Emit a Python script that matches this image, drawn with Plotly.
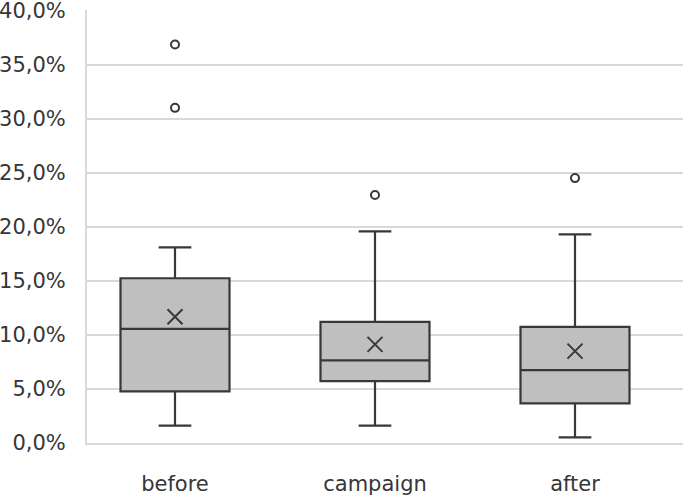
import plotly.graph_objects as go

categories = ["before", "campaign", "after"]
q1 = [0.0477, 0.0573, 0.0366]
median = [0.1056, 0.0764, 0.0674]
q3 = [0.1524, 0.1120, 0.1074]
lower_whisker = [0.016, 0.016, 0.0052]
upper_whisker = [0.181, 0.1958, 0.193]
mean = [0.1167, 0.0912, 0.085]
outlier_cat = ["before", "before", "campaign", "after"]
outlier_val = [0.3686, 0.310, 0.2294, 0.245]

tick_vals = [0, 0.05, 0.10, 0.15, 0.20, 0.25, 0.30, 0.35, 0.40]
tick_text = ["0,0%", "5,0%", "10,0%", "15,0%", "20,0%", "25,0%", "30,0%", "35,0%", "40,0%"]

DARK = "#383838"
TEXT = "#363636"
FONT = "DejaVu Sans"

fig = go.Figure()
fig.add_trace(go.Box(
    x=categories, q1=q1, median=median, q3=q3,
    lowerfence=lower_whisker, upperfence=upper_whisker,
    fillcolor="#bfbfbf", line=dict(color=DARK, width=2.2),
    width=0.545, whiskerwidth=0.3, boxpoints=False,
    hoverinfo="skip", showlegend=False,
))
fig.add_trace(go.Scatter(
    x=categories, y=mean, mode="markers",
    marker=dict(symbol="x-thin-open", size=15, color=DARK,
                line=dict(color=DARK, width=2)),
    showlegend=False, hoverinfo="skip",
))
fig.add_trace(go.Scatter(
    x=outlier_cat, y=outlier_val, mode="markers",
    marker=dict(symbol="circle-open", size=8, color=DARK,
                line=dict(color=DARK, width=2)),
    showlegend=False, hoverinfo="skip",
))

fig.update_layout(
    width=685, height=499,
    margin=dict(l=87, r=2, t=10, b=56, autoexpand=False),
    paper_bgcolor="white", plot_bgcolor="white",
    font=dict(family=FONT, size=21, color=TEXT),
    xaxis=dict(
        type="category", categoryorder="array", categoryarray=categories,
        range=[-0.44, 2.54], showgrid=False, zeroline=False,
        showline=True, linecolor="#d9d9d9", linewidth=2,
        ticks="", ticklabelstandoff=21, automargin=False,
        ticklabeloverflow="allow",
        tickfont=dict(family=FONT, size=21, color=TEXT),
    ),
    yaxis=dict(
        range=[0, 0.4005], tickvals=tick_vals, ticktext=tick_text,
        showgrid=True, gridcolor="#d9d9d9", gridwidth=2,
        zeroline=False, showline=True, linecolor="#d9d9d9", linewidth=2,
        ticks="", ticklabelstandoff=15, automargin=False,
        ticklabeloverflow="allow",
        tickfont=dict(family=FONT, size=21, color=TEXT),
    ),
)

fig.write_html(
    "out.html",
    config={"displayModeBar": False},
    post_script="document.body.style.margin='0';document.body.style.padding='0';",
)
